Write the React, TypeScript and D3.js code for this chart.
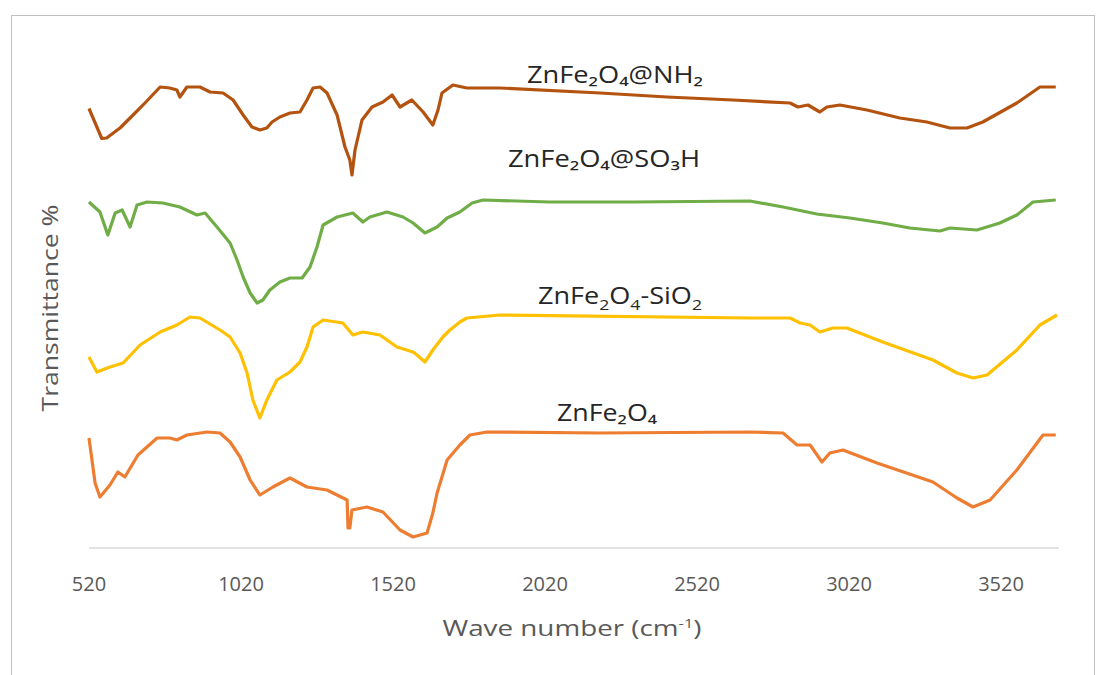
import React from 'react';
import * as d3 from 'd3';

// FTIR spectra, offset vertically (wave number cm-1, transmittance %)
const nh2Wave = [520, 562, 578, 622, 665, 704, 754, 786, 809, 819, 842, 885, 918, 961, 994, 1027, 1056, 1082, 1105, 1122, 1148, 1181, 1214, 1237, 1257, 1280, 1303, 1336, 1362, 1378, 1385, 1395, 1418, 1451, 1487, 1517, 1543, 1582, 1619, 1651, 1668, 1681, 1717, 1763, 1872, 2201, 2421, 2638, 2826, 2852, 2885, 2924, 2947, 2990, 3079, 3187, 3276, 3352, 3408, 3460, 3572, 3648, 3700];
const nh2T = [87.9, 81.9, 82.0, 84.0, 86.6, 89.0, 92.2, 92.0, 91.6, 90.2, 92.2, 92.2, 91.2, 91.0, 89.6, 86.6, 84.2, 83.6, 84.0, 85.2, 86.2, 87.0, 87.2, 89.6, 92.0, 92.2, 91.0, 86.6, 80.2, 77.6, 74.6, 79.6, 85.6, 88.2, 89.2, 90.6, 88.2, 89.6, 87.2, 84.6, 87.6, 91.0, 92.6, 92.0, 92.0, 91.0, 90.2, 89.6, 89.0, 88.2, 88.6, 87.2, 88.2, 88.6, 87.6, 86.0, 85.2, 84.0, 84.0, 85.2, 89.0, 92.2, 92.2];

const so3hWave = [520, 556, 582, 606, 629, 655, 678, 711, 763, 819, 875, 902, 941, 984, 1007, 1027, 1050, 1073, 1092, 1115, 1148, 1181, 1221, 1247, 1270, 1290, 1336, 1388, 1421, 1444, 1500, 1553, 1586, 1625, 1665, 1698, 1740, 1780, 1816, 2036, 2309, 2694, 2803, 2914, 3023, 3131, 3220, 3319, 3352, 3441, 3516, 3572, 3625, 3700];
const so3hT = [69.2, 67.2, 62.6, 67.0, 67.6, 64.2, 68.6, 69.2, 69.0, 68.2, 66.6, 67.0, 64.2, 61.0, 57.6, 54.2, 51.0, 49.0, 49.6, 51.6, 53.2, 54.0, 54.0, 56.2, 60.2, 64.6, 66.2, 67.0, 65.2, 66.2, 67.2, 66.2, 65.0, 63.0, 64.2, 66.0, 67.2, 69.0, 69.6, 69.2, 69.2, 69.4, 68.2, 66.8, 66.0, 65.0, 64.0, 63.4, 64.0, 63.6, 65.0, 66.6, 69.2, 69.6];

const sio2Wave = [520, 546, 589, 632, 688, 754, 809, 852, 885, 951, 984, 1017, 1040, 1059, 1082, 1105, 1138, 1181, 1214, 1237, 1257, 1290, 1355, 1388, 1421, 1477, 1533, 1586, 1599, 1625, 1651, 1684, 1707, 1740, 1763, 1872, 2694, 2826, 2859, 2892, 2924, 2967, 3013, 3131, 3296, 3375, 3428, 3474, 3572, 3648, 3704];
const sio2T = [38.2, 35.2, 36.2, 37.0, 40.6, 43.2, 44.6, 46.2, 46.0, 43.6, 42.2, 39.0, 35.0, 29.6, 26.0, 29.6, 33.6, 35.2, 37.2, 40.2, 44.2, 45.6, 45.0, 42.6, 43.2, 42.6, 40.2, 39.2, 38.6, 37.2, 39.6, 42.2, 43.6, 45.2, 46.0, 46.6, 46.0, 46.0, 45.0, 44.6, 43.2, 44.0, 44.0, 41.2, 37.6, 35.0, 34.0, 34.6, 39.6, 44.6, 46.6];

const znfeWave = [520, 540, 556, 589, 615, 638, 681, 744, 786, 809, 842, 908, 951, 984, 1017, 1050, 1082, 1125, 1181, 1237, 1303, 1369, 1372, 1378, 1385, 1434, 1487, 1543, 1586, 1632, 1651, 1665, 1698, 1740, 1773, 1829, 2201, 2694, 2803, 2849, 2892, 2931, 2957, 3000, 3112, 3296, 3375, 3428, 3484, 3572, 3658, 3700];
const znfeT = [22.0, 13.0, 10.2, 12.6, 15.2, 14.2, 18.6, 22.0, 22.0, 21.6, 22.6, 23.2, 23.0, 21.2, 18.2, 13.6, 10.6, 12.2, 14.0, 12.2, 11.6, 9.6, 4.0, 4.0, 7.6, 8.2, 7.2, 3.6, 2.2, 3.0, 7.0, 11.0, 17.6, 20.6, 22.6, 23.2, 23.0, 23.2, 23.0, 20.6, 20.6, 17.2, 19.0, 19.6, 17.0, 13.2, 10.0, 8.2, 9.6, 15.6, 22.6, 22.6];

const xTicks = [520, 1020, 1520, 2020, 2520, 3020, 3520];

const series = [
  { wave: nh2Wave, t: nh2T, color: '#B4530F' },
  { wave: so3hWave, t: so3hT, color: '#70AD47' },
  { wave: sio2Wave, t: sio2T, color: '#FFC000' },
  { wave: znfeWave, t: znfeT, color: '#ED7D31' },
];

const W = 1107;
const H = 675;

const x = d3.scaleLinear().domain([520, 3710]).range([89, 1058.8]);
const y = d3.scaleLinear().domain([0, 100]).range([548, 48]);

const line = d3.line<[number, number]>()
  .x(d => x(d[0]))
  .y(d => y(d[1]));

const font = '"Open Sans", "DejaVu Sans", sans-serif';

export default function App() {
  return (
    <svg width={W} height={H} style={{ position: 'absolute', left: 0, top: 0, background: '#fff' }}
      fontFamily={font}>
      <rect x={11.5} y={15.5} width={1083} height={700} fill="#fff" stroke="#bfbfbf" />
      <line x1={x(520)} x2={x(3710)} y1={548} y2={548} stroke="#d9d9d9" strokeWidth={1.5} />
      {series.map((s, i) => (
        <path key={i}
          d={line(s.wave.map((w, j) => [w, s.t[j]] as [number, number])) || ''}
          fill="none" stroke={s.color} strokeWidth={3.2} strokeLinejoin="round" />
      ))}
      {xTicks.map(t => (
        <text key={t} x={x(t)} y={591} textAnchor="middle" fontSize={20} fill="#595959">{t}</text>
      ))}
      <text x={572} y={636} textAnchor="middle" fontSize={22} fill="#595959"
        textLength={259} lengthAdjust="spacingAndGlyphs">
        Wave number (cm<tspan dy={-8} fontSize={13}>-1</tspan><tspan dy={8}>)</tspan>
      </text>
      <text transform="translate(58,308) rotate(-90)" textAnchor="middle" fontSize={21} fill="#595959"
        textLength={207} lengthAdjust="spacingAndGlyphs">Transmittance %</text>

      <text x={615} y={83} textAnchor="middle" fontSize={23} fill="#262626"
        textLength={176} lengthAdjust="spacingAndGlyphs">ZnFe₂O₄@NH₂</text>
      <text x={604} y={167} textAnchor="middle" fontSize={23} fill="#262626"
        textLength={192} lengthAdjust="spacingAndGlyphs">ZnFe₂O₄@SO₃H</text>
      <text x={620} y={304} textAnchor="middle" fontSize={23} fill="#262626"
        textLength={164} lengthAdjust="spacingAndGlyphs">
        ZnFe<tspan dy={6} fontSize={15}>2</tspan><tspan dy={-6}>O</tspan><tspan dy={6} fontSize={15}>4</tspan><tspan dy={-6}>-SiO</tspan><tspan dy={6} fontSize={15}>2</tspan>
      </text>
      <text x={607} y={421} textAnchor="middle" fontSize={23} fill="#262626"
        textLength={100} lengthAdjust="spacingAndGlyphs">ZnFe₂O₄</text>
    </svg>
  );
}
